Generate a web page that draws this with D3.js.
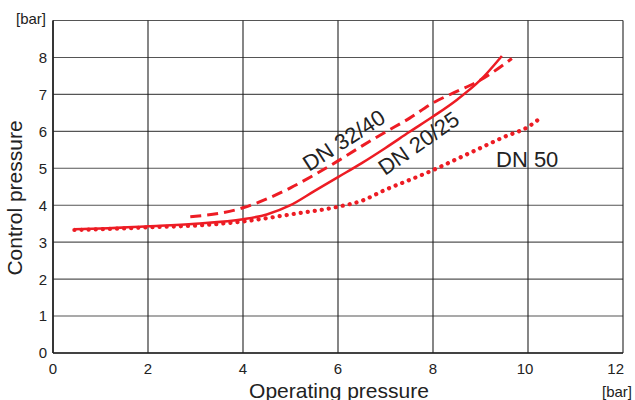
<!DOCTYPE html>
<html>
<head>
<meta charset="utf-8">
<script src="https://cdn.jsdelivr.net/npm/d3@7"></script>
<style>
  body { margin: 0; background: #fff; }
  svg { display: block; font-family: "Liberation Sans", Arial, sans-serif; }
</style>
</head>
<body>
<div id="chart"></div>
<script>
var WIDTH = 635;
var HEIGHT = 400;
var margin = { top: 20.5, right: 12, bottom: 47, left: 53 };
var RED = "#ed1c24";

var X_TICKS = [0, 2, 4, 6, 8, 10, 12];
var Y_TICKS = [0, 1, 2, 3, 4, 5, 6, 7, 8];

// DN 20/25 (solid)
var DN2025_X = [0.45, 1, 2, 3, 4, 4.5, 5, 5.5, 6, 6.5, 7, 7.5, 8, 8.5, 9, 9.45];
var DN2025_Y = [3.35, 3.37, 3.43, 3.5, 3.62, 3.75, 4.0, 4.38, 4.76, 5.14, 5.55, 5.98, 6.4, 6.85, 7.39, 8.04];

// DN 32/40 (dashed)
var DN3240_X = [2.89, 3.5, 4, 4.5, 5, 5.5, 6, 6.5, 7, 7.5, 8, 8.5, 9, 9.66];
var DN3240_Y = [3.69, 3.78, 3.93, 4.17, 4.47, 4.82, 5.2, 5.6, 5.98, 6.35, 6.77, 7.08, 7.39, 7.97];

// DN 50 (dotted)
var DN50_X = [0.45, 1, 2, 3, 4, 5, 6, 6.5, 7, 7.5, 8, 8.5, 9, 9.5, 10, 10.25];
var DN50_Y = [3.33, 3.35, 3.4, 3.45, 3.56, 3.75, 3.96, 4.12, 4.42, 4.68, 4.95, 5.25, 5.55, 5.85, 6.12, 6.35];

var innerW = WIDTH - margin.left - margin.right;
var innerH = HEIGHT - margin.top - margin.bottom;

var svg = d3.select("#chart").append("svg")
  .attr("width", WIDTH)
  .attr("height", HEIGHT);

var x = d3.scaleLinear().domain([0, 12]).range([margin.left, margin.left + innerW]);
var y = d3.scaleLinear().domain([0, 9]).range([margin.top + innerH, margin.top]);

// grid
svg.append("g").selectAll("line")
  .data(Y_TICKS.concat([9]))
  .enter().append("line")
  .attr("x1", x(0)).attr("x2", x(12))
  .attr("y1", d => y(d)).attr("y2", d => y(d))
  .attr("stroke", "#555").attr("stroke-width", 1.1);

svg.append("g").selectAll("line")
  .data(X_TICKS)
  .enter().append("line")
  .attr("x1", d => x(d)).attr("x2", d => x(d))
  .attr("y1", y(0)).attr("y2", y(9))
  .attr("stroke", "#222").attr("stroke-width", 1.1);

// axes
svg.append("line")
  .attr("x1", x(0)).attr("x2", x(0)).attr("y1", y(0)).attr("y2", y(9))
  .attr("stroke", "#222").attr("stroke-width", 1.6);
svg.append("line")
  .attr("x1", x(0)).attr("x2", x(12)).attr("y1", y(0)).attr("y2", y(0))
  .attr("stroke", "#222").attr("stroke-width", 1.6);

// tick labels
svg.append("g").selectAll("text")
  .data(Y_TICKS)
  .enter().append("text")
  .attr("x", x(0) - 6)
  .attr("y", d => y(d))
  .attr("dy", "0.36em")
  .attr("text-anchor", "end")
  .attr("font-size", 15)
  .attr("fill", "#222")
  .text(d => d);

svg.append("g").selectAll("text")
  .data(X_TICKS)
  .enter().append("text")
  .attr("x", d => d == 12 ? x(d) + 1 : (d == 10 ? x(d) - 3 : x(d)))
  .attr("y", y(0) + 21)
  .attr("text-anchor", d => d == 12 ? "end" : "middle")
  .attr("font-size", 15)
  .attr("fill", "#222")
  .text(d => d);

svg.append("text")
  .attr("x", 46).attr("y", 24)
  .attr("text-anchor", "end")
  .attr("font-size", 15)
  .attr("fill", "#222")
  .text("[bar]");

svg.append("text")
  .attr("x", 632).attr("y", 397)
  .attr("text-anchor", "end")
  .attr("font-size", 15)
  .attr("fill", "#222")
  .text("[bar]");

// axis titles
svg.append("text")
  .attr("transform", "translate(21.5," + 198 + ") rotate(-90)")
  .attr("text-anchor", "middle")
  .attr("font-size", 21)
  .attr("fill", "#222")
  .text("Control pressure");

svg.append("text")
  .attr("x", 339).attr("y", 397.5)
  .attr("text-anchor", "middle")
  .attr("font-size", 21)
  .attr("fill", "#222")
  .text("Operating pressure");

// curves
var line = d3.line()
  .x(d => x(d[0]))
  .y(d => y(d[1]))
  .curve(d3.curveMonotoneX);

function plot_curve(xs, ys, dash, width, cap) {
  var pts = xs.map((v, i) => [v, ys[i]]);
  svg.append("path")
    .datum(pts)
    .attr("d", line)
    .attr("fill", "none")
    .attr("stroke", RED)
    .attr("stroke-width", width)
    .attr("stroke-linecap", cap)
    .attr("stroke-dasharray", dash);
}

plot_curve(DN50_X, DN50_Y, "0.1 7", 4.2, "round");
plot_curve(DN3240_X, DN3240_Y, "11 6", 3, "butt");
plot_curve(DN2025_X, DN2025_Y, null, 2.5, "butt");

// curve labels
svg.append("text")
  .attr("transform", "translate(309,172) rotate(-33)")
  .attr("font-size", 22)
  .attr("fill", "#222")
  .text("DN 32/40");

svg.append("text")
  .attr("transform", "translate(385,176) rotate(-35)")
  .attr("font-size", 22)
  .attr("fill", "#222")
  .text("DN 20/25");

svg.append("text")
  .attr("x", 496).attr("y", 166.5)
  .attr("font-size", 22)
  .attr("fill", "#222")
  .text("DN 50");
</script>
</body>
</html>
